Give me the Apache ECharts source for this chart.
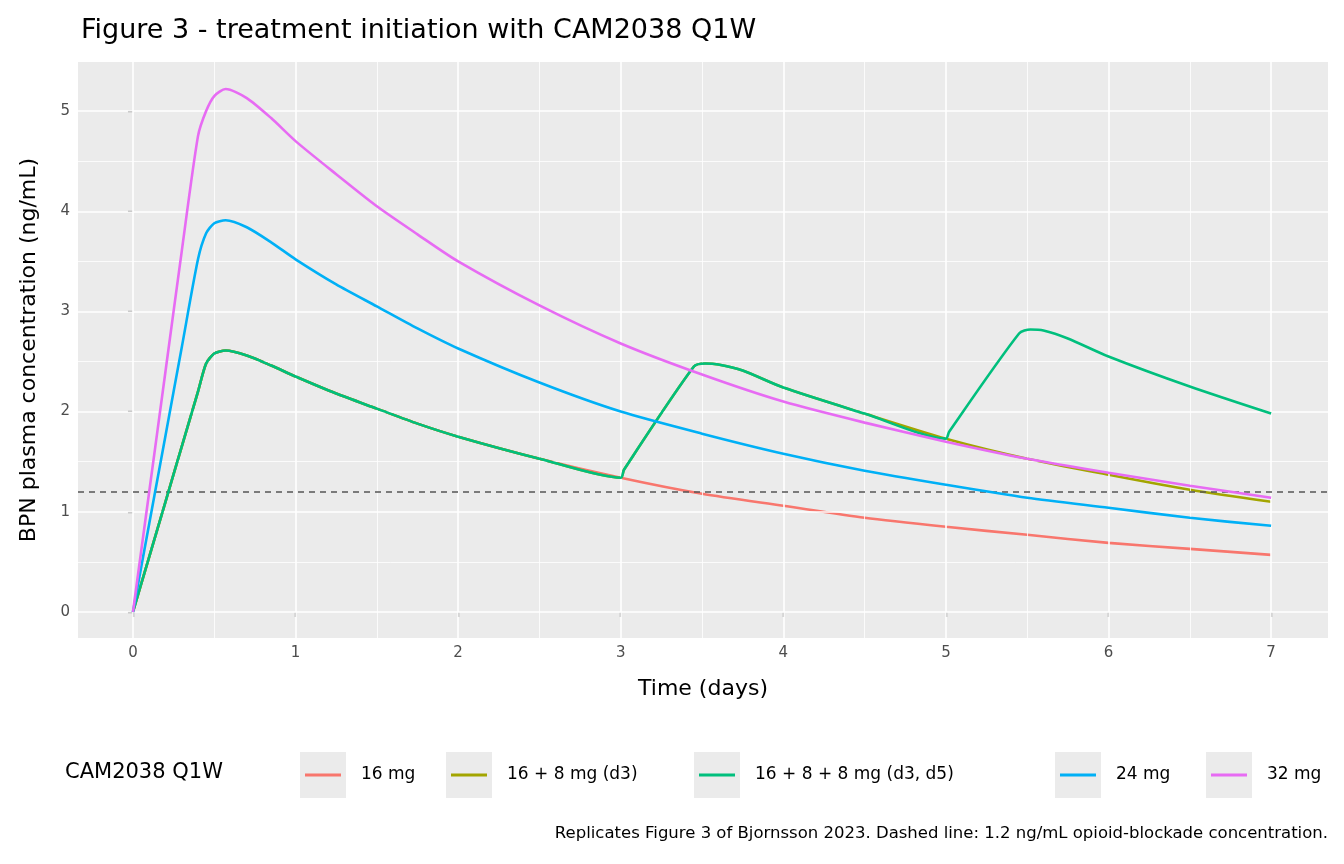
<!DOCTYPE html>
<html>
<head>
<meta charset="utf-8">
<script src="https://cdn.jsdelivr.net/npm/echarts@6/dist/echarts.min.js"></script>
<style>html,body{margin:0;padding:0;background:#fff}#chart{width:1344px;height:864px}</style>
</head>
<body>
<div id="chart"></div>
<script>
// series names and colours (ggplot defaults)
const seriesNames = ['16 mg', '16 + 8 mg (d3)', '16 + 8 + 8 mg (d3, d5)', '24 mg', '32 mg'];
const seriesColors = ['#F8766D', '#A3A500', '#00BF7D', '#00B0F6', '#E76BF3'];

// time points (days) and values (ng/mL)
const tBase = [0, 0.1, 0.2, 0.3, 0.4, 0.45, 0.5, 0.57, 0.7, 0.85, 1, 1.25, 1.5, 1.75, 2, 2.5, 3, 3.5, 4, 4.5, 5, 5.5, 6, 6.5, 7];
const v16 = [0, 0.55, 1.1, 1.65, 2.2, 2.48, 2.58, 2.61, 2.56, 2.46, 2.35, 2.18, 2.03, 1.88, 1.75, 1.53, 1.34, 1.18, 1.06, 0.94, 0.85, 0.77, 0.69, 0.63, 0.57];
const v24 = [0, 0.88, 1.76, 2.64, 3.52, 3.78, 3.88, 3.91, 3.84, 3.69, 3.52, 3.27, 3.05, 2.83, 2.63, 2.29, 2.0, 1.78, 1.58, 1.41, 1.27, 1.14, 1.04, 0.94, 0.86];
const v32 = [0, 1.2, 2.4, 3.6, 4.75, 5.0, 5.15, 5.22, 5.13, 4.93, 4.7, 4.37, 4.05, 3.77, 3.5, 3.06, 2.68, 2.37, 2.1, 1.89, 1.7, 1.53, 1.39, 1.26, 1.14];

const tD3 = [3.02, 3.45, 3.52, 3.6, 3.75, 4, 4.5, 5, 5.5, 6, 6.5, 7];
const vD3 = [1.42, 2.45, 2.48, 2.47, 2.41, 2.24, 1.98, 1.73, 1.53, 1.37, 1.22, 1.10];
const tD5 = [5.02, 5.45, 5.52, 5.6, 5.75, 6, 6.5, 7];
const vD5 = [1.80, 2.78, 2.82, 2.81, 2.73, 2.55, 2.25, 1.98];

const xTicks = [0, 1, 2, 3, 4, 5, 6, 7];
const xMinor = [0.5, 1.5, 2.5, 3.5, 4.5, 5.5, 6.5];
const yTicks = [0, 1, 2, 3, 4, 5];
const yMinor = [0.5, 1.5, 2.5, 3.5, 4.5];
const blockade = 1.2;

function pairs(t, v) { return t.map((x, i) => [x, v[i]]); }
const base16 = pairs(tBase, v16);
const upTo3 = base16.filter(p => p[0] <= 3);
const d3Full = upTo3.concat(pairs(tD3, vD3));
const upTo5 = d3Full.filter(p => p[0] <= 5);
const d5Full = upTo5.concat(pairs(tD5, vD5));
const seriesData = [base16, d3Full, d5Full, pairs(tBase, v24), pairs(tBase, v32)];

const font = 'DejaVu Sans';
const chart = echarts.init(document.getElementById('chart'));

const gridLines = {
  type: 'line', data: [], silent: true, z: 1,
  markLine: {
    silent: true, symbol: 'none', label: {show: false}, animation: false,
    data: [
      ...xMinor.map(x => ({xAxis: x, lineStyle: {color: '#fff', width: 0.8, type: 'solid'}})),
      ...yMinor.map(y => ({yAxis: y, lineStyle: {color: '#fff', width: 0.8, type: 'solid'}})),
      ...xTicks.map(x => ({xAxis: x, lineStyle: {color: '#fff', width: 1.6, type: 'solid'}})),
      ...yTicks.map(y => ({yAxis: y, lineStyle: {color: '#fff', width: 1.6, type: 'solid'}}))
    ]
  }
};
const dashLine = {
  type: 'line', data: [], silent: true, z: 5,
  markLine: {
    silent: true, symbol: 'none', label: {show: false}, animation: false,
    data: [{yAxis: blockade}],
    lineStyle: {color: '#555', width: 1.6, type: [6, 5]}
  }
};

// legend drawn as graphic elements
const keyX = [300, 446, 694, 1055, 1206];
const keyY = 752, keyS = 46;
const legendGraphics = [{
  type: 'text', x: 65, y: 762,
  style: {text: 'CAM2038 Q1W', font: '21px ' + font, fill: '#000'}
}];
seriesNames.forEach((n, i) => {
  legendGraphics.push({type: 'rect', shape: {x: keyX[i], y: keyY, width: keyS, height: keyS}, style: {fill: '#ebebeb'}});
  legendGraphics.push({type: 'line', shape: {x1: keyX[i] + 5, y1: keyY + 23, x2: keyX[i] + 41, y2: keyY + 23}, style: {stroke: seriesColors[i], lineWidth: 3}});
  legendGraphics.push({type: 'text', x: keyX[i] + 61, y: keyY + 14, style: {text: n, font: '17px ' + font, fill: '#000'}});
});

chart.setOption({
  animation: false,
  textStyle: {fontFamily: font},
  title: {
    text: 'Figure 3 - treatment initiation with CAM2038 Q1W',
    left: 76, top: 12,
    textStyle: {fontSize: 27, fontWeight: 'normal', color: '#000', fontFamily: font}
  },
  grid: {left: 78, right: 16, top: 62, bottom: 226, show: true, backgroundColor: '#ebebeb', borderWidth: 0},
  xAxis: {
    type: 'value', min: -0.338, max: 7.35,
    name: 'Time (days)', nameLocation: 'middle', nameGap: 40,
    nameTextStyle: {fontSize: 22, color: '#000', fontFamily: font},
    axisLine: {show: false}, splitLine: {show: false},
    axisTick: {show: true, length: 5, lineStyle: {color: '#333', width: 1.2}, customValues: xTicks},
    axisLabel: {color: '#4d4d4d', fontSize: 15, margin: 8, customValues: xTicks, fontFamily: font}
  },
  yAxis: {
    type: 'value', min: -0.26, max: 5.49,
    name: 'BPN plasma concentration (ng/mL)', nameLocation: 'middle', nameGap: 38,
    nameTextStyle: {fontSize: 22, color: '#000', fontFamily: font},
    axisLine: {show: false}, splitLine: {show: false},
    axisTick: {show: true, length: 5, lineStyle: {color: '#333', width: 1.2}, customValues: yTicks},
    axisLabel: {color: '#4d4d4d', fontSize: 15, margin: 8, customValues: yTicks, fontFamily: font}
  },
  graphic: legendGraphics.concat([{
    type: 'text', right: 16, top: 825,
    style: {text: 'Replicates Figure 3 of Bjornsson 2023. Dashed line: 1.2 ng/mL opioid-blockade concentration.', font: '16.5px ' + font, fill: '#000'}
  }]),
  series: [gridLines, dashLine].concat(seriesNames.map((n, i) => ({
    name: n, type: 'line', data: seriesData[i], showSymbol: false, smooth: 0.25, z: 3 + i,
    lineStyle: {color: seriesColors[i], width: 2.6}, itemStyle: {color: seriesColors[i]}
  })))
});
</script>
</body>
</html>
